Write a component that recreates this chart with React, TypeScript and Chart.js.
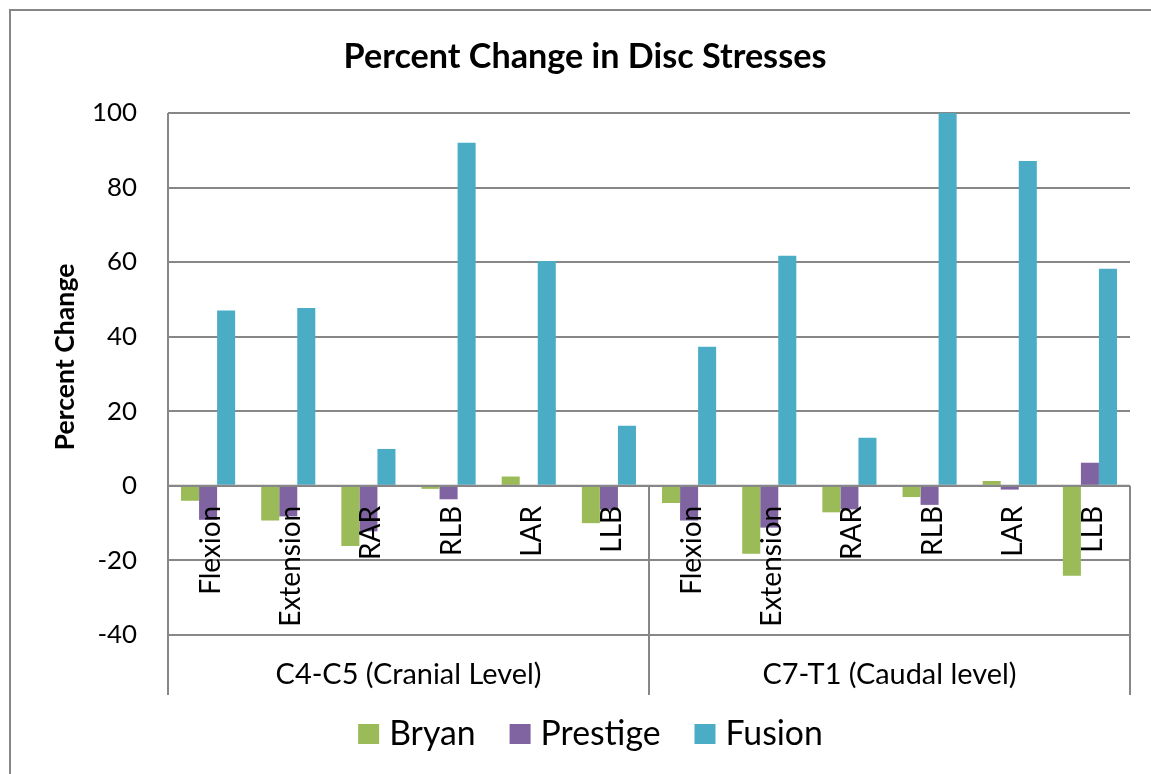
import { useEffect, useRef } from "react";
import { Chart, registerables } from "chart.js";

Chart.register(...registerables);

// ---------- data ----------
const titleText = "Percent Change in Disc Stresses";
const yTitleText = "Percent Change";
const groups = ["C4-C5 (Cranial Level)", "C7-T1 (Caudal level)"];
const motions = ["Flexion", "Extension", "RAR", "RLB", "LAR", "LLB"];
const categories = [...motions, ...motions];
const seriesNames = ["Bryan", "Prestige", "Fusion"];
const bryan = [-4, -9.3, -16.1, -0.8, 2.5, -10, -4.6, -18.2, -7.1, -3, 1.3, -24.1];
const prestige = [-9.1, -8.2, -12.2, -3.6, 0, -6.4, -9.3, -11.2, -6.3, -5.1, -1, 6.2];
const fusion = [47, 47.7, 9.9, 92, 60.3, 16.1, 37.3, 61.7, 12.9, 100, 87.1, 58.2];
const yMin = -40;
const yMax = 100;
const yStep = 20;

// ---------- style ----------
const COLORS = ["#9BBB59", "#8064A2", "#4BACC6"];
const GRID = "#878787";
const FONT = "Lato, 'Open Sans', sans-serif";

function fitSize(ctx: CanvasRenderingContext2D, text: string, weight: string, target: number) {
  ctx.font = `${weight} 100px ${FONT}`;
  const w = ctx.measureText(text).width;
  return (100 * target) / w;
}

const overlay = {
  id: "overlay",
  beforeDraw(chart: any) {
    const ctx = chart.ctx as CanvasRenderingContext2D;
    ctx.save();
    ctx.fillStyle = "#ffffff";
    ctx.fillRect(0, 0, chart.width, chart.height);
    ctx.strokeStyle = "#868686";
    ctx.lineWidth = 2;
    ctx.strokeRect(10, 10, chart.width + 20, chart.height + 20);

    // title
    ctx.fillStyle = "#000";
    const ts = fitSize(ctx, titleText, "bold", 483);
    ctx.font = `bold ${ts}px ${FONT}`;
    ctx.textAlign = "center";
    ctx.textBaseline = "middle";
    ctx.fillText(titleText, 585, 57);

    // y title
    const ys = fitSize(ctx, yTitleText, "bold", 187);
    ctx.font = `bold ${ys}px ${FONT}`;
    ctx.translate(65, 357);
    ctx.rotate(-Math.PI / 2);
    ctx.textAlign = "center";
    ctx.textBaseline = "middle";
    ctx.fillText(yTitleText, 0, 0);
    ctx.restore();
  },
  afterDatasetsDraw(chart: any) {
    const ctx = chart.ctx as CanvasRenderingContext2D;
    const { chartArea } = chart;
    const x = chart.scales.x;
    const y = chart.scales.y;
    const y0 = y.getPixelForValue(0);
    const boxBottom = chartArea.bottom + 60;
    ctx.save();
    ctx.strokeStyle = GRID;
    ctx.lineWidth = 2;
    ctx.beginPath();
    ctx.moveTo(chartArea.left, y0);
    ctx.lineTo(chartArea.right, y0);
    ctx.moveTo(chartArea.left, chartArea.top);
    ctx.lineTo(chartArea.left, boxBottom);
    for (let g = 1; g <= groups.length; g++) {
      const xg = chartArea.left + ((chartArea.right - chartArea.left) * g) / groups.length;
      ctx.moveTo(xg, y0);
      ctx.lineTo(xg, boxBottom);
    }
    ctx.stroke();

    // category labels (rotated)
    ctx.fillStyle = "#000";
    const cs = fitSize(ctx, "Extension", "normal", 121);
    ctx.font = `${cs}px ${FONT}`;
    categories.forEach((c, i) => {
      const px = x.getPixelForValue(i);
      ctx.save();
      ctx.translate(px, y0 + 20);
      ctx.rotate(-Math.PI / 2);
      ctx.textAlign = "right";
      ctx.textBaseline = "alphabetic";
      ctx.fillText(c, 0, 12);
      ctx.restore();
    });

    // group labels
    const gs = fitSize(ctx, groups[0], "normal", 266);
    ctx.font = `${gs}px ${FONT}`;
    ctx.textAlign = "center";
    ctx.textBaseline = "alphabetic";
    groups.forEach((g, i) => {
      const w = (chartArea.right - chartArea.left) / groups.length;
      const cx = chartArea.left + w * (i + 0.5);
      ctx.fillText(g, cx, 684);
    });

    // legend
    const ls = fitSize(ctx, "Prestige", "normal", 120);
    ctx.font = `${ls}px ${FONT}`;
    const box = 21;
    const gapBox = 10;
    const gapItem = 34;
    const widths = seriesNames.map((n) => ctx.measureText(n).width);
    const total = widths.reduce((a, w) => a + box + gapBox + w, 0) + gapItem * (seriesNames.length - 1);
    let lx = 590.5 - total / 2;
    seriesNames.forEach((n, i) => {
      ctx.fillStyle = COLORS[i];
      ctx.fillRect(lx, 724, box, box - 1);
      ctx.fillStyle = "#000";
      ctx.textAlign = "left";
      ctx.fillText(n, lx + box + gapBox, 745);
      lx += box + gapBox + widths[i] + gapItem;
    });
    ctx.restore();
  },
};

export default function App() {
  const ref = useRef<HTMLCanvasElement | null>(null);
  useEffect(() => {
    if (!ref.current) return;
    const yTicks: number[] = [];
    for (let v = yMin; v <= yMax; v += yStep) yTicks.push(v);
    const mctx = document.createElement("canvas").getContext("2d") as CanvasRenderingContext2D;
    const tickSize = fitSize(mctx, "100", "normal", 45);
    const chart = new Chart(ref.current, {
      type: "bar",
      data: {
        labels: categories,
        datasets: [bryan, prestige, fusion].map((d, i) => ({
          label: seriesNames[i],
          data: d,
          backgroundColor: COLORS[i],
          borderWidth: 0,
          categoryPercentage: 0.675,
          barPercentage: 1,
        })),
      },
      options: {
        responsive: false,
        animation: false,
        devicePixelRatio: 1,
        layout: { padding: { left: 10, top: 113, right: 21, bottom: 139 } },
        plugins: {
          legend: { display: false },
          title: { display: false },
          tooltip: { enabled: false },
        },
        scales: {
          x: { display: false, offset: true },
          y: {
            min: yMin,
            max: yMax,
            afterFit(scale: any) {
              scale.width = 158;
            },
            afterBuildTicks(scale: any) {
              scale.ticks = yTicks.map((v) => ({ value: v }));
            },
            border: { display: false },
            grid: { color: GRID, lineWidth: 2, drawTicks: false },
            ticks: {
              padding: 31,
              color: "#000",
              font: { family: FONT, size: tickSize },
            },
          },
        },
      },
      plugins: [overlay],
    });
    return () => chart.destroy();
  }, []);
  return (
    <div style={{ position: "fixed", left: 0, top: 0, width: 1151, height: 774, background: "#fff" }}>
      <canvas ref={ref} width={1151} height={774} style={{ display: "block" }} />
    </div>
  );
}
